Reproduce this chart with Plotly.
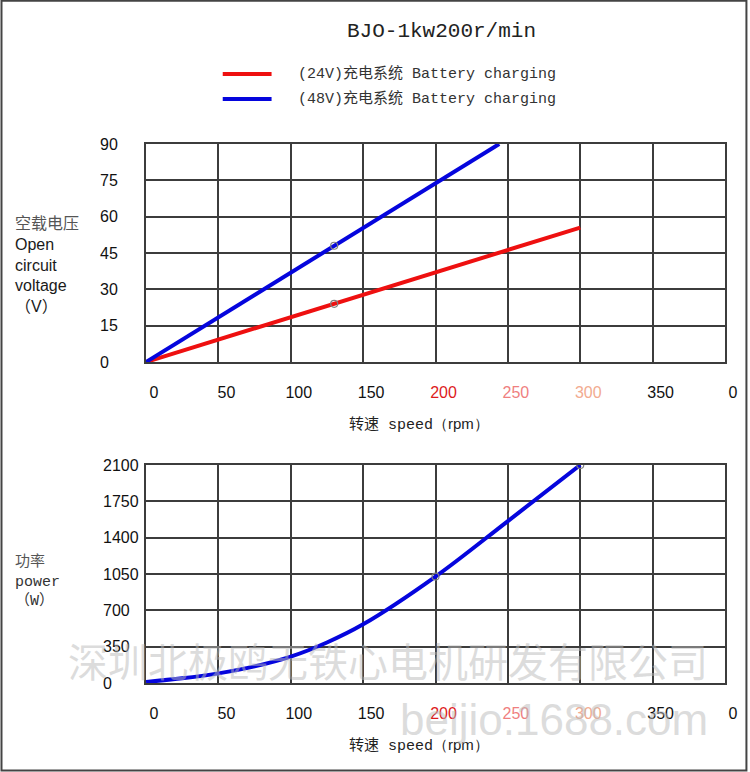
import plotly.graph_objects as go

# ---------------- data ----------------
speed_ticks = [0, 50, 100, 150, 200, 250, 300, 350, 400]
speed_tick_labels = ['0', '50', '100', '150', '200', '250', '300', '350', '0']
voltage_ticks = [0, 15, 30, 45, 60, 75, 90]
power_ticks = [0, 350, 700, 1050, 1400, 1750, 2100]

series_names = ['(24V)充电系统 Battery charging', '(48V)充电系统 Battery charging']
speed_24v = [0, 130, 300]
volt_24v = [0, 24, 55.5]
speed_48v = [0, 130, 244]
volt_48v = [0, 48, 90]
marker_speed_v = [130, 130]
marker_volt = [24, 48]

speed_power = [0, 25, 50, 75, 100, 125, 150, 200, 250, 300]
power_w = [10, 45, 93, 160, 254, 390, 565, 1025, 1560, 2100]
marker_speed_p = [200, 300]
marker_power = [1025, 2100]

title_text = 'BJO-1kw200r/min'
x_title = '转速 speed<span style="font-family:Liberation Sans">（rpm）</span>'
watermark_cn = '深圳北极鸥无铁心电机研发有限公司'
watermark_en = 'beijio.1688.com'

# ---------------- layout helpers ----------------
W, H = 750, 772
L, R, T, B = 146, 727, 144, 683
PW, PH = R - L, B - T


def px2x(px):
    return (px - L) / PW


def py2y(py):
    return (B - py) / PH


RED = '#ee1010'
BLUE = '#0505dd'
GRID = '#3c3c3c'
tick_colors = {4: '#dd1c1c', 5: '#ef7f7f', 6: '#f2ab90'}
tick_text = [
    f'<span style="color:{tick_colors[i]}">{t}</span>' if i in tick_colors else t
    for i, t in enumerate(speed_tick_labels)
]

fig = go.Figure()

fig.add_trace(go.Scatter(x=speed_24v, y=volt_24v, mode='lines', name=series_names[0],
                         line=dict(color=RED, width=4), xaxis='x', yaxis='y', showlegend=False))
fig.add_trace(go.Scatter(x=speed_48v, y=volt_48v, mode='lines', name=series_names[1],
                         line=dict(color=BLUE, width=4), xaxis='x', yaxis='y', showlegend=False))
fig.add_trace(go.Scatter(x=marker_speed_v, y=marker_volt, mode='markers',
                         marker=dict(symbol='circle-open', size=7, color='#808080', line=dict(width=1.2)),
                         xaxis='x', yaxis='y', showlegend=False, hoverinfo='skip'))
fig.add_trace(go.Scatter(x=speed_power, y=power_w, mode='lines', line=dict(color=BLUE, width=4, shape='spline'),
                         xaxis='x2', yaxis='y2', showlegend=False, name='power'))
fig.add_trace(go.Scatter(x=marker_speed_p, y=marker_power, mode='markers',
                         marker=dict(symbol='circle-open', size=7, color='#808080', line=dict(width=1.2)),
                         xaxis='x2', yaxis='y2', showlegend=False, hoverinfo='skip'))

axis_common = dict(showgrid=True, gridcolor=GRID, gridwidth=1.5, showline=True, linecolor=GRID,
                   linewidth=1.5, mirror=True, zeroline=False, ticks='')
xaxis_common = dict(axis_common, range=[0, 400], tickvals=speed_ticks, ticktext=tick_text,
                    tickfont=dict(family='Liberation Sans, Arial', size=16, color='#111'),
                    ticklabelstandoff=15, ticklabelshift=8)

fig.update_layout(
    width=W, height=H,
    margin=dict(l=L, r=W - R, t=T, b=H - B),
    paper_bgcolor='white', plot_bgcolor='white',
    xaxis=dict(xaxis_common, domain=[0, 1], anchor='y'),
    yaxis=dict(axis_common, domain=[py2y(362), 1], range=[0, 90], tickvals=voltage_ticks,
               showticklabels=False, anchor='x'),
    xaxis2=dict(xaxis_common, domain=[0, 1], anchor='y2'),
    yaxis2=dict(axis_common, domain=[0, py2y(465)], range=[0, 2100], tickvals=power_ticks,
                showticklabels=False, anchor='x2'),
    showlegend=False,
)

ann = []
# y tick labels (left aligned, as in the reference)
for v in voltage_ticks:
    ann.append(dict(x=px2x(98), y=v, xref='paper', yref='y', xanchor='left', yanchor='middle',
                    text=str(v), showarrow=False,
                    font=dict(family='Liberation Sans, Arial', size=16, color='#111')))
for v in power_ticks:
    ann.append(dict(x=px2x(101), y=v, xref='paper', yref='y2', xanchor='left', yanchor='middle',
                    text=str(v), showarrow=False,
                    font=dict(family='Liberation Sans, Arial', size=16, color='#111')))

# title
ann.append(dict(x=px2x(443), y=py2y(32), xref='paper', yref='paper', xanchor='center', yanchor='middle',
                text=title_text, showarrow=False,
                font=dict(family='Liberation Mono, monospace', size=21, color='#222')))

# legend (manual)
for i, (name, col, ypx) in enumerate([(series_names[0], RED, 74), (series_names[1], BLUE, 99)]):
    fig.add_shape(type='line', xref='paper', yref='paper', x0=px2x(223), x1=px2x(272),
                  y0=py2y(ypx), y1=py2y(ypx), line=dict(color=col, width=4))
    ann.append(dict(x=px2x(297), y=py2y(ypx), xref='paper', yref='paper', xanchor='left',
                    yanchor='middle', text=name, showarrow=False,
                    font=dict(family='Liberation Mono, Noto Sans CJK SC', size=15, color='#333')))

# y titles
ann.append(dict(x=px2x(13), y=py2y(265), xref='paper', yref='paper', xanchor='left', yanchor='middle',
                align='left', showarrow=False,
                text='<span style="color:#555">空载电压</span><br>Open<br>circuit<br>voltage<br>（V）',
                font=dict(family='Liberation Sans, Noto Sans CJK SC', size=16, color='#1a1a1a')))
ann.append(dict(x=px2x(13), y=py2y(581), xref='paper', yref='paper', xanchor='left', yanchor='middle',
                align='left', showarrow=False,
                text='<span style="color:#555">功率</span><br>power<br>（W）',
                font=dict(family='Liberation Mono, Noto Sans CJK SC', size=15, color='#333')))

# x titles
for ypx in (424, 745):
    ann.append(dict(x=px2x(420), y=py2y(ypx), xref='paper', yref='paper', xanchor='center',
                    yanchor='middle', showarrow=False, text=x_title,
                    font=dict(family='Liberation Mono, Noto Sans CJK SC', size=15, color='#222')))

# watermarks
ann.append(dict(x=px2x(389), y=py2y(660), xref='paper', yref='paper', xanchor='center', yanchor='middle',
                showarrow=False, text=watermark_cn,
                font=dict(family='Noto Sans CJK SC', size=40, color='rgba(185,185,185,0.5)')))
ann.append(dict(x=px2x(555), y=py2y(719), xref='paper', yref='paper', xanchor='center', yanchor='middle',
                showarrow=False, text=watermark_en,
                font=dict(family='Liberation Sans, Arial', size=44, color='rgba(185,185,185,0.5)')))

fig.update_layout(annotations=ann)

# outer frame
fig.add_shape(type='rect', xref='paper', yref='paper', x0=px2x(1), x1=px2x(748.5),
              y0=py2y(770.5), y1=py2y(0.8), line=dict(color='#444', width=2), layer='above')

fig.write_html('out.html', config={'displayModeBar': False},
               post_script="document.body.style.margin='0';document.body.style.overflow='hidden';")
